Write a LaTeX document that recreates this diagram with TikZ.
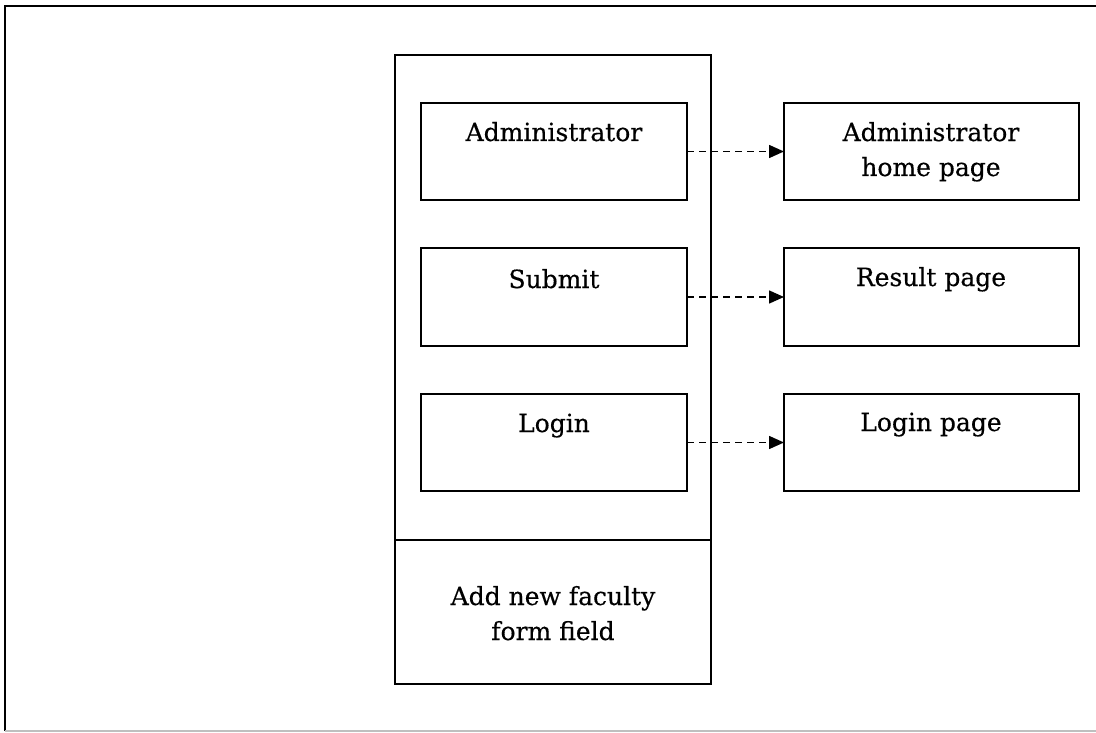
\documentclass[tikz,border=0pt]{standalone}
\usepackage{fontspec}
\setmainfont{DejaVu Serif}
\newfontfamily\lblfont{DejaVu Serif}[FakeBold=0.4]
\usetikzlibrary{arrows.meta}
\begin{document}
\begin{tikzpicture}[x=1pt,y=-1pt,
  box/.style={draw, line width=1.6pt, rectangle, inner sep=0pt, outer sep=0pt, anchor=north west},
  lbl/.style={font=\lblfont\fontsize{25}{35}\selectfont, align=center, anchor=base, inner sep=0pt},
  link/.style={draw, line width=1.6pt, dash pattern=on 7pt off 5pt, -{Triangle[length=15pt,width=13pt]}}]
\useasboundingbox (0,0) rectangle (1096,733);
% outer frame
\draw[line width=1.8pt] (5,731) -- (5,6) -- (1096,6);
\draw[line width=1.5pt, black!25] (5,731) -- (1096,731);
% main column
\node[box, minimum width=316pt, minimum height=485pt] (col) at (395,55) {};
\node[box, minimum width=316pt, minimum height=144pt] (form) at (395,540) {};
% inner boxes
\node[box, minimum width=266pt, minimum height=97pt] (adm) at (421,103) {};
\node[box, minimum width=266pt, minimum height=98pt] (sub) at (421,248) {};
\node[box, minimum width=266pt, minimum height=97pt] (log) at (421,394) {};
% right boxes
\node[box, minimum width=295pt, minimum height=97pt] (ahp) at (784,103) {};
\node[box, minimum width=295pt, minimum height=98pt] (res) at (784,248) {};
\node[box, minimum width=295pt, minimum height=97pt] (lgp) at (784,394) {};
% labels
\node[lbl] (admT) at (554,141) {Administrator};
\node[lbl] (subT) at (554,288) {Submit};
\node[lbl] (logT) at (554,432) {Login};
\node[lbl] (ahpT) at (931,176) {Administrator\\home page};
\node[lbl] (resT) at (931,286) {Result page};
\node[lbl] (lgpT) at (931,431) {Login page};
\node[lbl] (formT) at (553,640) {Add new faculty\\form field};
% connectors
\draw[link] (adm.east) -- (ahp.west);
\draw[link] (sub.east) -- (res.west);
\draw[link] (log.east) -- (lgp.west);
\end{tikzpicture}
\end{document}
